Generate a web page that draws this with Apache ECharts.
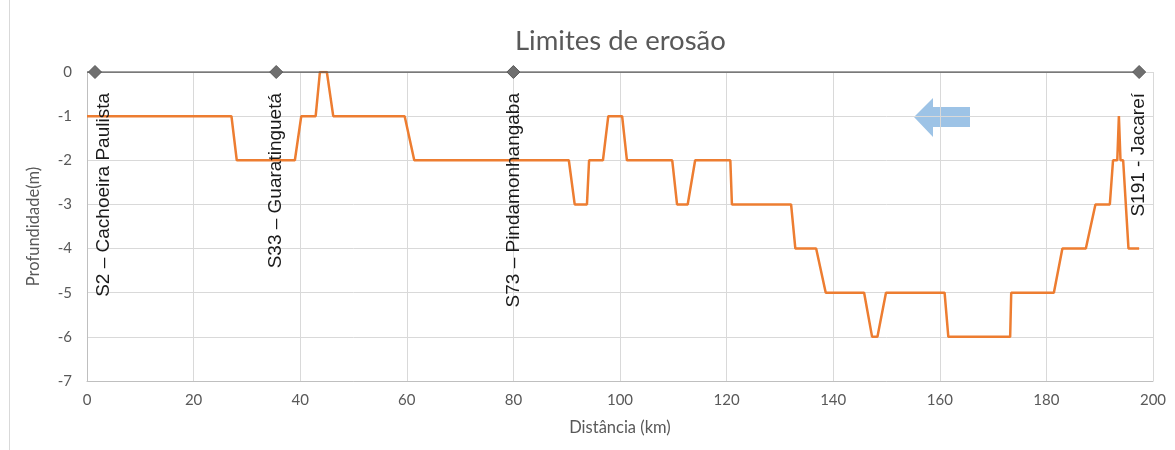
<!DOCTYPE html>
<html>
<head>
<meta charset="utf-8">
<script src="https://cdn.jsdelivr.net/npm/echarts@6/dist/echarts.min.js"></script>
<style>
  html, body { margin: 0; padding: 0; background: #ffffff; }
  #chart { width: 1175px; height: 450px; }
</style>
</head>
<body>
<div id="chart"></div>
<script>
// Erosion limit profile along the river: distance (km) and depth (m)
const profileKm = [0, 27.1, 28.1, 39.0, 40.2, 42.9, 43.7, 45.0, 46.2, 59.6, 61.4, 90.4, 91.5, 93.8, 94.2,
  96.8, 97.8, 100.4, 101.3, 109.8, 110.7, 112.7, 114.1, 120.7, 121.0, 132.1, 132.9, 136.8, 138.6,
  145.8, 147.3, 148.3, 149.9, 160.9, 161.6, 173.2, 173.4, 181.4, 183.0, 187.4, 189.2, 191.9, 192.5,
  193.3, 193.6, 193.9, 194.4, 195.4, 197.4];
const profileDepth = [-1, -1, -2, -2, -1, -1, 0, 0, -1, -1, -2, -2, -3, -3, -2,
  -2, -1, -1, -2, -2, -3, -3, -2, -2, -3, -3, -4, -4, -5,
  -5, -6, -6, -5, -5, -6, -6, -5, -5, -4, -4, -3, -3, -2,
  -2, -1, -2, -2, -4, -4];

// Gauging stations along the reference line at depth 0
const stationNames = ['S2 – Cachoeira Paulista', 'S33 – Guaratinguetá', 'S73 – Pindamonhangaba', 'S191 - Jacareí'];
const stationKm = [1.5, 35.5, 80, 197.4];
const referenceStartKm = 0;

// Axis ticks
const xTicks = { min: 0, max: 200, interval: 20 };
const yTicks = { min: -7, max: 0, interval: 1 };

const chart = echarts.init(document.getElementById('chart'), null, { renderer: 'canvas' });

const uiFont = 'Lato, "Open Sans", sans-serif';
const tickFont = { fontFamily: uiFont, fontSize: 15, color: '#595959' };
const nameFont = { fontFamily: uiFont, fontSize: 16.5, color: '#595959' };

const stationData = [{ value: [referenceStartKm, 0], symbol: 'none', label: { show: false } }]
  .concat(stationKm.map((km, i) => ({
    value: [km, 0],
    name: stationNames[i],
    // the first label sits a little right of its marker, clear of the axis
    label: i === 0 ? { offset: [0, 9] } : {}
  })));

chart.setOption({
  animation: false,
  backgroundColor: '#ffffff',
  title: {
    text: 'Limites de erosão',
    left: 510,
    top: 22,
    textStyle: { fontFamily: uiFont, fontSize: 27.5, fontWeight: 'normal', color: '#595959' }
  },
  grid: { left: 87, right: 22, top: 72, bottom: 69, containLabel: false },
  xAxis: {
    type: 'value',
    min: xTicks.min, max: xTicks.max, interval: xTicks.interval,
    name: 'Distância (km)',
    nameLocation: 'middle',
    nameGap: 38,
    nameTextStyle: nameFont,
    axisLine: { show: true, onZero: false, lineStyle: { color: '#bfbfbf', width: 1 } },
    axisTick: { show: false },
    axisLabel: Object.assign({ margin: 12 }, tickFont),
    splitLine: { show: true, lineStyle: { color: '#d9d9d9', width: 1 } }
  },
  yAxis: {
    type: 'value',
    min: yTicks.min, max: yTicks.max, interval: yTicks.interval,
    name: 'Profundidade(m)',
    nameLocation: 'middle',
    nameGap: 45,
    nameTextStyle: nameFont,
    axisLine: { show: true, lineStyle: { color: '#bfbfbf', width: 1 } },
    axisTick: { show: false },
    axisLabel: Object.assign({ margin: 15 }, tickFont),
    splitLine: { show: true, lineStyle: { color: '#d9d9d9', width: 1 } }
  },
  series: [
    {
      name: 'Limite de erosão',
      type: 'line',
      data: profileKm.map((km, i) => [km, profileDepth[i]]),
      showSymbol: false,
      symbol: 'none',
      lineStyle: { color: '#ED7D31', width: 2.5 },
      z: 3
    },
    {
      name: 'Estações',
      type: 'line',
      data: stationData,
      symbol: 'diamond',
      symbolSize: 13,
      lineStyle: { color: '#595959', width: 1.5 },
      itemStyle: { color: '#6f6f6f', borderColor: '#595959', borderWidth: 1 },
      label: {
        show: true,
        formatter: p => p.data.name,
        position: 'bottom',
        distance: 14,
        rotate: 90,
        align: 'right',
        verticalAlign: 'middle',
        fontFamily: '"Liberation Sans", Arial, sans-serif',
        fontSize: 19,
        color: '#1a1a1a'
      },
      z: 4
    }
  ],
  graphic: [
    {
      type: 'line',
      shape: { x1: 9.5, y1: 0, x2: 9.5, y2: 450 },
      style: { stroke: '#d9d9d9', lineWidth: 1 },
      silent: true
    },
    {
      // direction of flow
      type: 'polygon',
      shape: { points: [[914, 117], [933, 98], [933, 107], [970, 107], [970, 127], [933, 127], [933, 137]] },
      style: { fill: '#9DC3E6' },
      silent: true
    }
  ]
});
</script>
</body>
</html>
